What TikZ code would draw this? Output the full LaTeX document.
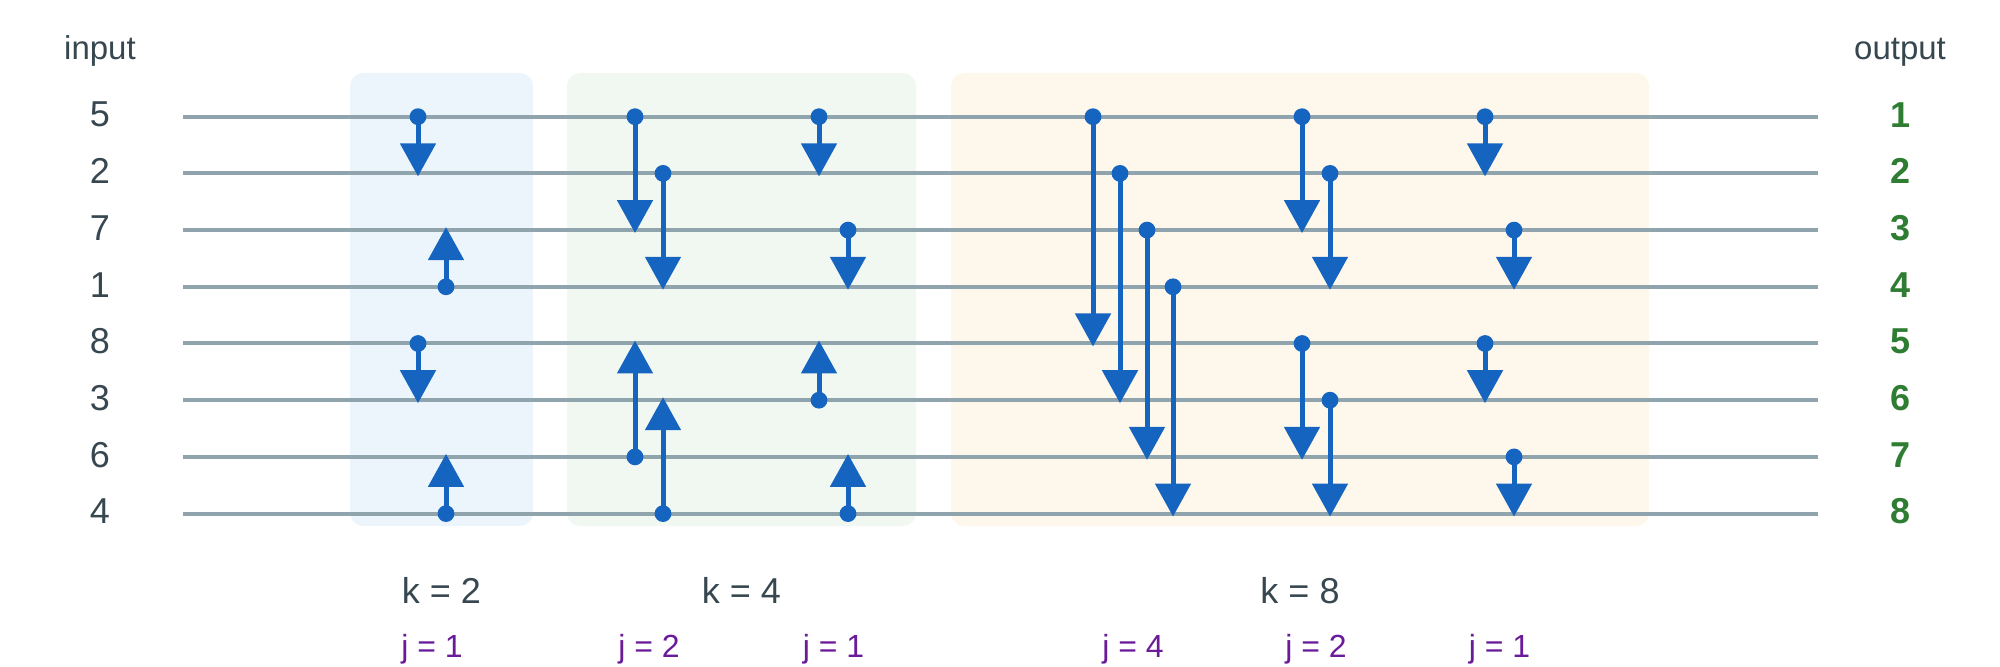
\documentclass[tikz,border=0pt]{standalone}
\usepackage{fontspec}
\setmainfont{Liberation Sans}
\usetikzlibrary{arrows.meta}

\definecolor{wire}{HTML}{90A4AE}
\definecolor{cmpblue}{HTML}{1565C0}
\definecolor{outgreen}{HTML}{2E7D32}
\definecolor{jpurple}{HTML}{6A1B9A}
\definecolor{txt}{HTML}{37474F}
\definecolor{boxa}{HTML}{EDF5FC}
\definecolor{boxb}{HTML}{F1F8F2}
\definecolor{boxc}{HTML}{FEF7EC}

\begin{document}
\begin{tikzpicture}[x=0.5pt, y=-0.5pt,
  num/.style={inner sep=0pt, text=txt, font=\fontsize{18}{20}\selectfont},
  outnum/.style={inner sep=0pt, text=outgreen, font=\fontsize{18}{20}\selectfont\bfseries},
  lbl/.style={inner sep=0pt, anchor=base, text=txt, font=\fontsize{16.5}{18}\selectfont},
  klbl/.style={inner sep=0pt, anchor=base, text=txt, font=\fontsize{18}{20}\selectfont},
  jlbl/.style={inner sep=0pt, anchor=base, text=jpurple, font=\fontsize{16}{18}\selectfont},
  stagebox/.style={rounded corners=6.5pt},
  wireline/.style={wire, line width=2pt},
  cmp/.style={cmpblue, line width=2.5pt, -{Triangle[length=16.5pt, width=17.5pt]}, shorten >=-1.5pt}]
  \useasboundingbox (0,0) rectangle (2000,667);

  % stage backgrounds
  \fill[stagebox, boxa] (350,73) rectangle (533,526);
  \fill[stagebox, boxb] (567,73) rectangle (916,526);
  \fill[stagebox, boxc] (951,73) rectangle (1649,526);

  \node[lbl] (inlbl) at (100,60) {input};
  \node[lbl] (outlbl) at (1900,60) {output};

  % wires
  \foreach \v [count=\i, evaluate=\i as \y using 60+56.7*\i] in {5,2,7,1,8,3,6,4} {
    \node[num] (in\i) at (100,\y-2) {\v};
    \coordinate (L\i) at (183,\y);
    \coordinate (R\i) at (1818,\y);
    \node[outnum] (out\i) at (1900,\y-2) {\i};
    \draw[wireline] (L\i) -- (R\i);
  }

  % comparator columns
  \foreach \n/\x in {s1a/418, s1b/446, s2a/635, s2b/663, s3a/819, s3b/848,
      s4a/1093, s4b/1120, s4c/1147, s4d/1173, s5a/1302, s5b/1330, s6a/1485, s6b/1514}
    \coordinate (\n) at (\x,0);

  % comparators: column / from wire / to wire
  \foreach \c/\a/\b in {s1a/1/2, s1a/5/6, s1b/4/3, s1b/8/7,
      s2a/1/3, s2a/7/5, s2b/2/4, s2b/8/6,
      s3a/1/2, s3a/6/5, s3b/3/4, s3b/8/7,
      s4a/1/5, s4b/2/6, s4c/3/7, s4d/4/8,
      s5a/1/3, s5a/5/7, s5b/2/4, s5b/6/8,
      s6a/1/2, s6a/5/6, s6b/3/4, s6b/7/8} {
    \draw[cmp] (\c |- L\a) -- (\c |- L\b);
    \fill[cmpblue] (\c |- L\a) circle (4.2pt);
  }

  % stage labels
  \node[klbl] (k2) at (441.5,603) {k = 2};
  \node[klbl] (k4) at (741.5,603) {k = 4};
  \node[klbl] (k8) at (1300,603) {k = 8};
  \node[jlbl] (j1a) at (432,657) {j = 1};
  \node[jlbl] (j2a) at (649,657) {j = 2};
  \node[jlbl] (j1b) at (833.5,657) {j = 1};
  \node[jlbl] (j4c) at (1133,657) {j = 4};
  \node[jlbl] (j2c) at (1316,657) {j = 2};
  \node[jlbl] (j1c) at (1499.5,657) {j = 1};
\end{tikzpicture}
\end{document}
